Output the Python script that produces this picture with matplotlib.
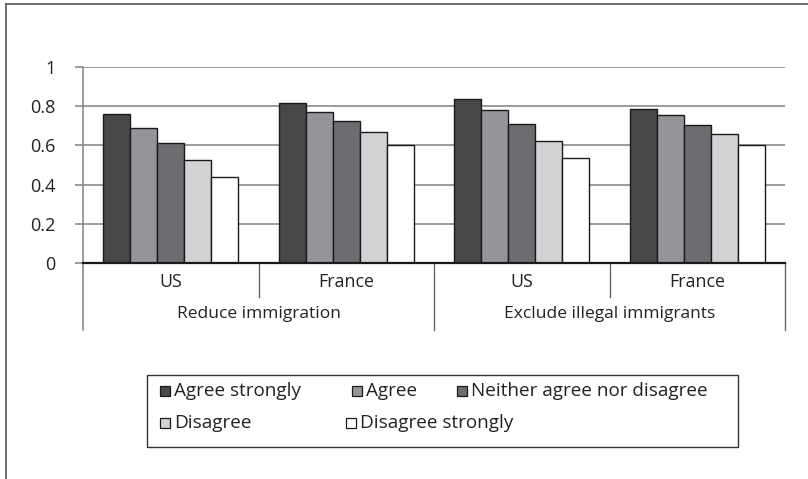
import matplotlib
matplotlib.use("Agg")
import matplotlib.pyplot as plt
from matplotlib.patches import Rectangle
from matplotlib.lines import Line2D
import numpy as np

plt.rcParams['font.family'] = ['Open Sans', 'DejaVu Sans']

# Data
categories = ["US", "France", "US", "France"]
groups = ["Reduce immigration", "Exclude illegal immigrants"]
series = ["Agree strongly", "Agree", "Neither agree nor disagree",
          "Disagree", "Disagree strongly"]
agree_strongly = [0.76, 0.815, 0.837, 0.787]
agree = [0.69, 0.772, 0.779, 0.753]
neither = [0.61, 0.723, 0.707, 0.702]
disagree = [0.525, 0.667, 0.622, 0.660]
disagree_strongly = [0.44, 0.604, 0.535, 0.604]
y_ticks = [0, 0.2, 0.4, 0.6, 0.8, 1]
y_tick_labels = ["0", "0.2", "0.4", "0.6", "0.8", "1"]

values = [agree_strongly, agree, neither, disagree, disagree_strongly]
colors = ["#47484a", "#939598", "#6b6d70", "#d1d3d4", "#ffffff"]

W, H = 808, 479
fig = plt.figure(figsize=(W / 100, H / 100), dpi=100)

# outer frame (top and left edges)
fig.add_artist(Line2D([6 / W, 1.0], [1 - 4 / H, 1 - 4 / H], color="#555555", lw=1.2))
fig.add_artist(Line2D([6 / W, 6 / W], [0, 1 - 4 / H], color="#555555", lw=1.2))

ax_l, ax_r, ax_b, ax_t = 83, 785, 263, 67
ax = fig.add_axes([ax_l / W, 1 - ax_b / H, (ax_r - ax_l) / W, (ax_b - ax_t) / H])

x = np.arange(len(categories))
bw = 0.154
for i, (vals, c, name) in enumerate(zip(values, colors, series)):
    ax.bar(x + (i - 2) * bw, vals, width=bw, color=c, edgecolor="#1a1a1a",
           linewidth=1.0, label=name, zorder=3)

ax.set_xlim(-0.5, len(categories) - 0.5)
ax.set_ylim(0, 1)
ax.set_yticks(y_ticks)
ax.set_yticklabels(y_tick_labels, fontsize=13, color="#222222")
ax.yaxis.grid(True, color="#8a8a8a", lw=1.2, zorder=0)
ax.set_xticks([])
ax.tick_params(axis="y", length=6, width=1.2, color="#8a8a8a", pad=14)

for s in ["top", "right", "left"]:
    ax.spines[s].set_visible(False)
ax.spines["bottom"].set_color("#1a1a1a")
ax.spines["bottom"].set_linewidth(1.6)
ax.spines["bottom"].set_zorder(4)

trans = ax.get_xaxis_transform()
axh = ax_b - ax_t
# left axis line, continuing down through the category area
ax.plot([-0.5, -0.5], [1, -67 / axh], transform=trans, color="#8a8a8a",
        lw=1.2, clip_on=False, zorder=2)
# separators between countries and between question groups
for xs in [0.5, 2.5]:
    ax.plot([xs, xs], [0, -34 / axh], transform=trans, color="#666666",
            lw=1.0, clip_on=False)
for xs in [1.5, 3.5]:
    ax.plot([xs, xs], [0, -67 / axh], transform=trans, color="#666666",
            lw=1.0, clip_on=False)

for xi, cat in zip(x, categories):
    ax.text(xi, -19 / axh, cat, transform=trans, ha="center", va="center",
            fontsize=12.8, color="#222222")
for gi, g in enumerate(groups):
    ax.text(2 * gi + 0.5, -51 / axh, g, transform=trans, ha="center",
            va="center", fontsize=12.5, color="#222222")

# legend box
lx0, ly0, lx1, ly1 = 147, 375, 738, 447
fig.add_artist(Rectangle((lx0 / W, 1 - ly1 / H), (lx1 - lx0) / W, (ly1 - ly0) / H,
                         fill=False, edgecolor="#333333", lw=1.0))
legend_pos = [(160, 391), (352, 391), (457, 391), (160, 423), (346, 423)]
sq = 10
for (px, py), c, name in zip(legend_pos, colors, series):
    fig.add_artist(Rectangle((px / W, 1 - (py + sq / 2) / H), sq / W, sq / H,
                             facecolor=c, edgecolor="#1a1a1a", lw=0.9))
    fig.text((px + sq + 4) / W, 1 - py / H, name, ha="left", va="center",
             fontsize=13.6, color="#222222")

fig.savefig("out.png", dpi=100)
